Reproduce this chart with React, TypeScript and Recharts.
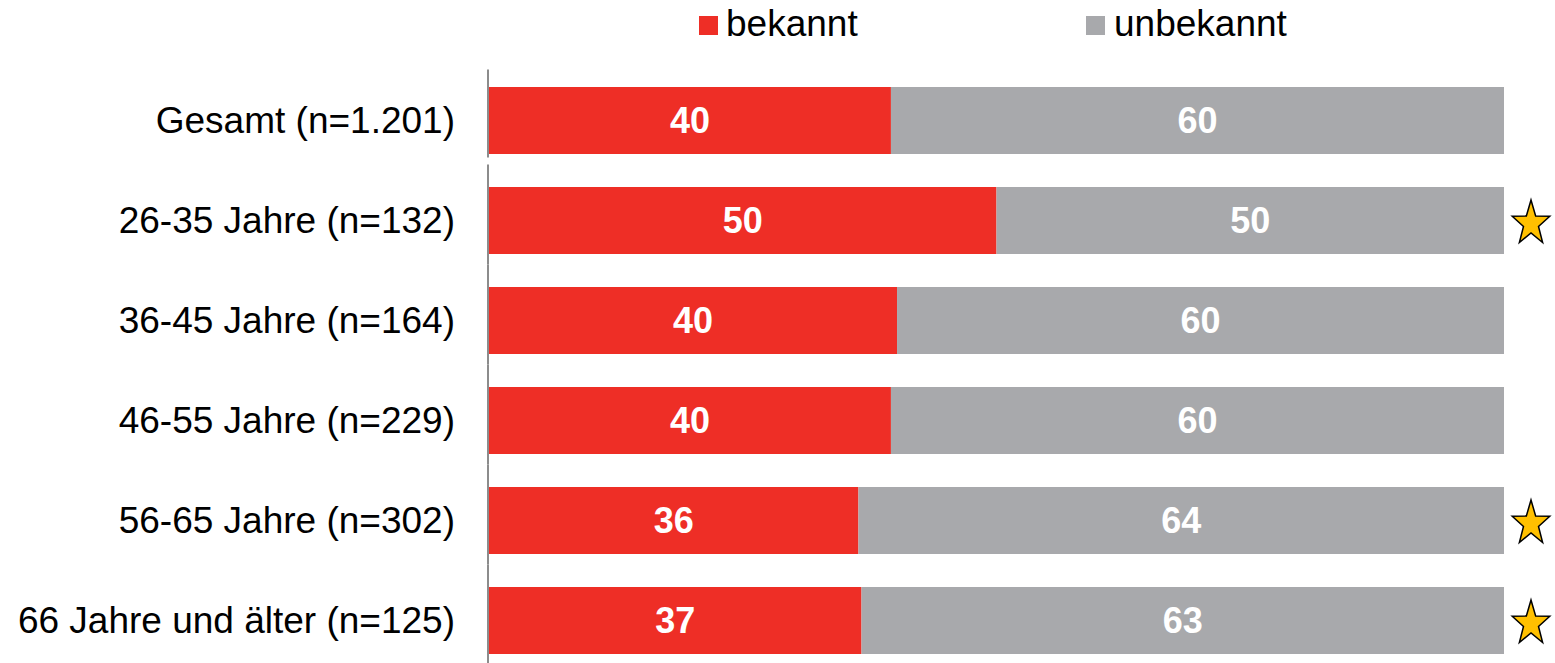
import { BarChart, Bar, XAxis, YAxis, Legend, LabelList } from 'recharts';

const categories = [
  'Gesamt (n=1.201)',
  '26-35 Jahre (n=132)',
  '36-45 Jahre (n=164)',
  '46-55 Jahre (n=229)',
  '56-65 Jahre (n=302)',
  '66 Jahre und älter (n=125)',
];
const bekannt = [39.6, 50, 40.2, 39.6, 36.4, 36.7];
const unbekannt = [60.4, 50, 59.8, 60.4, 63.6, 63.3];
const significant = [false, true, false, false, true, true];

const RED = '#ee2e26';
const GRAY = '#a8a9ac';
const FONT = '"Liberation Sans", Arial, sans-serif';
const TICK_MARGIN = 34;
const LEGEND_H = 50;

const data = categories.map((name, i) => ({
  name,
  bekannt: bekannt[i],
  unbekannt: unbekannt[i],
  star: significant[i],
}));

const CategoryTick = (props: any) => {
  const { x, y, payload, index } = props;
  const lineX = x + TICK_MARGIN - 1;
  const top = index === 0 ? y - 50.5 : y - 55.5;
  const bottom = index === 0 ? y + 37.5 : y + 44.5;
  return (
    <g>
      <text x={x} y={y} dy="0.36em" textAnchor="end" fontSize={37} fill="#000" fontFamily={FONT}>
        {payload.value}
      </text>
      <line x1={lineX} x2={lineX} y1={top} y2={bottom} stroke="#8c8c8c" strokeWidth={2} />
    </g>
  );
};

const Star = (props: any) => {
  const { x, y, width, height, index } = props;
  if (!significant[index]) return null;
  const cx = x + width + 27;
  const cy = y + height / 2 + 3;
  const R = 23.5;
  const pts: string[] = [];
  for (let k = 0; k < 10; k++) {
    const a = ((-90 + 36 * k) * Math.PI) / 180;
    const r = k % 2 === 0 ? R : R * 0.4;
    pts.push(`${cx + r * Math.cos(a) * 0.84},${cy + r * Math.sin(a)}`);
  }
  return <polygon points={pts.join(' ')} fill="#ffc000" stroke="#000" strokeWidth={1.5} strokeLinejoin="miter" />;
};

const LegendContent = () => (
  <div style={{ position: 'relative', height: LEGEND_H, fontFamily: FONT, fontSize: 37, color: '#000' }}>
    <div style={{ position: 'absolute', left: 699, top: 16, width: 19, height: 19, background: RED }} />
    <div style={{ position: 'absolute', left: 726, top: 3, lineHeight: '42px' }}>bekannt</div>
    <div style={{ position: 'absolute', left: 1086, top: 16, width: 19, height: 19, background: GRAY }} />
    <div style={{ position: 'absolute', left: 1114, top: 3, lineHeight: '42px' }}>unbekannt</div>
  </div>
);

export default function App() {
  return (
    <div style={{ width: 1555, height: 663, overflow: 'hidden', background: '#fff' }}>
      <style>{'body{margin:0}'}</style>
      <BarChart
        width={1555}
        height={670}
        data={data}
        layout="vertical"
        margin={{ top: 70 - LEGEND_H, right: 51, bottom: 0, left: 0 }}
        barSize={67}
      >
        <XAxis type="number" domain={[0, 100]} hide />
        <YAxis
          type="category"
          dataKey="name"
          width={489}
          axisLine={false}
          tickLine={false}
          tickSize={0}
          tickMargin={TICK_MARGIN}
          tick={<CategoryTick />}
          interval={0}
        />
        <Legend
          verticalAlign="top"
          align="left"
          height={LEGEND_H}
          content={<LegendContent />}
          wrapperStyle={{ top: 0, left: 0, width: 1555, height: LEGEND_H }}
        />
        <Bar dataKey="bekannt" stackId="a" fill={RED} isAnimationActive={false}>
          <LabelList
            dataKey="bekannt"
            position="center"
            formatter={(v: any) => Math.round(v)}
            fill="#fff"
            fontSize={36}
            fontWeight="bold"
            fontFamily={FONT}
          />
        </Bar>
        <Bar dataKey="unbekannt" stackId="a" fill={GRAY} isAnimationActive={false}>
          <LabelList
            dataKey="unbekannt"
            position="center"
            formatter={(v: any) => Math.round(v)}
            fill="#fff"
            fontSize={36}
            fontWeight="bold"
            fontFamily={FONT}
          />
          <LabelList dataKey="star" content={<Star />} />
        </Bar>
      </BarChart>
    </div>
  );
}
